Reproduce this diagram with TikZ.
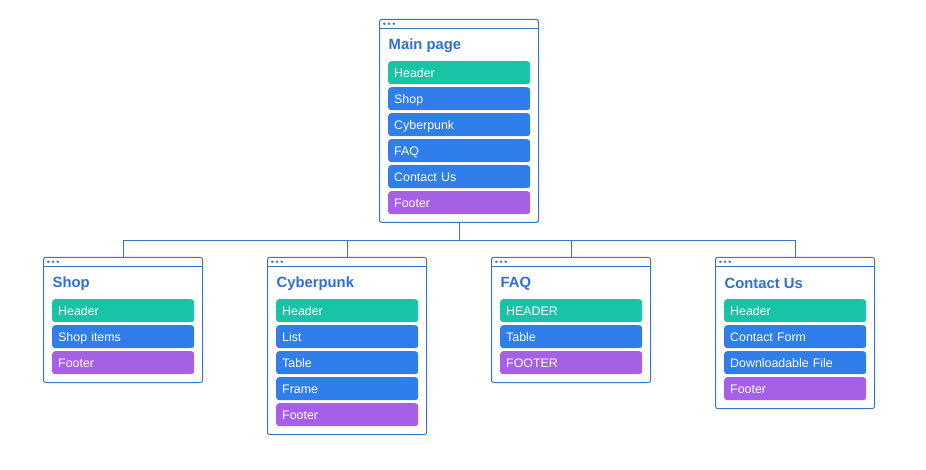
\documentclass[tikz,border=0pt]{standalone}
\usepackage{fontspec}
\setmainfont{Liberation Sans}
\definecolor{cteal}{HTML}{19C3A6}
\definecolor{cblue}{HTML}{2F7EEA}
\definecolor{cpurp}{HTML}{A660E8}
\definecolor{ctitle}{HTML}{2F6ED3}
\definecolor{cline}{HTML}{3C74C4}
\tikzset{
  pbox/.style={draw=cline, line width=1pt, rounded corners=2pt, fill=white, minimum width=159pt, inner sep=0pt},
  pline/.style={draw=cline, line width=0.9pt},
  ptitle/.style={text=ctitle, font=\fontsize{14.8}{16}\selectfont\bfseries, inner sep=0pt},
  itembox/.style={rounded corners=3pt, text=white, font=\fontsize{12.4}{14}\selectfont, text width=130pt, inner xsep=6pt, inner ysep=0pt, text height=10pt, text depth=1pt, minimum height=23pt, align=left, anchor=north west},
  conn/.style={draw=cline, line width=0.9pt},
}
\newcommand\pgbox[5]{%
  \node[pbox, minimum height=#4, anchor=north west] (#1) at (#2,#3) {};
  \draw[pline] ([yshift=-9pt]#1.north west) -- ([yshift=-9pt]#1.north east);
  \foreach \i in {0,1,2} \fill[cline] ([xshift=5.3pt+\i*4.7pt, yshift=-4.8pt]#1.north west) circle (1.4pt);
  \node[ptitle, anchor=west] (#1-t) at ([xshift=9.5pt,yshift=-26.5pt]#1.north west) {#5};
}
\newcommand\pgitem[5]{% name, box, index, color, text
  \node[itembox, fill=#4] (#1) at ([xshift=9pt,yshift={-42pt-#3*26pt}]#2.north west) {#5};
}
\begin{document}
\begin{tikzpicture}[x=1pt,y=-1pt]
\useasboundingbox (0,0) rectangle (926,470);
% main
\pgbox{main}{379}{19}{203}{Main page}
\pgitem{m1}{main}{0}{cteal}{Header}
\pgitem{m2}{main}{1}{cblue}{Shop}
\pgitem{m3}{main}{2}{cblue}{Cyberpunk}
\pgitem{m4}{main}{3}{cblue}{FAQ}
\pgitem{m5}{main}{4}{cblue}{Contact Us}
\pgitem{m6}{main}{5}{cpurp}{Footer}
% shop
\pgbox{shop}{43}{257}{125}{Shop}
\pgitem{s1}{shop}{0}{cteal}{Header}
\pgitem{s2}{shop}{1}{cblue}{Shop items}
\pgitem{s3}{shop}{2}{cpurp}{Footer}
% cyberpunk
\pgbox{cyb}{267}{257}{177}{Cyberpunk}
\pgitem{c1}{cyb}{0}{cteal}{Header}
\pgitem{c2}{cyb}{1}{cblue}{List}
\pgitem{c3}{cyb}{2}{cblue}{Table}
\pgitem{c4}{cyb}{3}{cblue}{Frame}
\pgitem{c5}{cyb}{4}{cpurp}{Footer}
% faq
\pgbox{faq}{491}{257}{125}{FAQ}
\pgitem{f1}{faq}{0}{cteal}{HEADER}
\pgitem{f2}{faq}{1}{cblue}{Table}
\pgitem{f3}{faq}{2}{cpurp}{FOOTER}
% contact
\pgbox{con}{715}{257}{151}{Contact Us}
\pgitem{k1}{con}{0}{cteal}{Header}
\pgitem{k2}{con}{1}{cblue}{Contact Form}
\pgitem{k3}{con}{2}{cblue}{Downloadable File}
\pgitem{k4}{con}{3}{cpurp}{Footer}
% connectors
\coordinate (j) at (459,240);
\draw[conn] (main.south) -- (j);
\draw[conn] (j) -| (shop.north);
\draw[conn] (j) -| (cyb.north);
\draw[conn] (j) -| (faq.north);
\draw[conn] (j) -| (con.north);
\end{tikzpicture}
\end{document}
